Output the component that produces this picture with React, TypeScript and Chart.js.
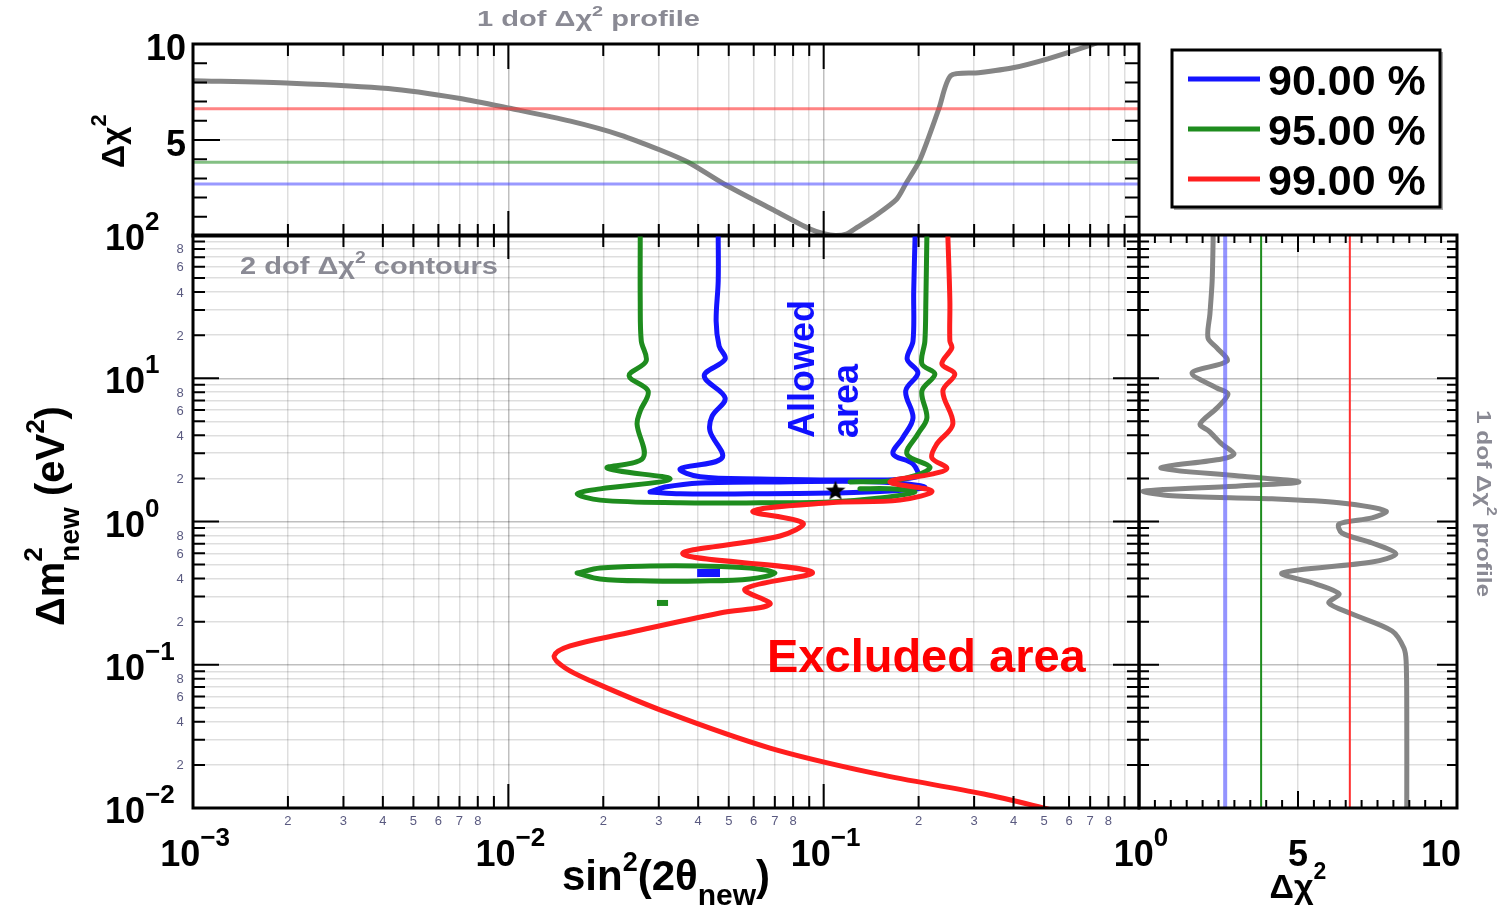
import React, { useEffect, useRef } from 'react';
import { Chart, registerables } from 'chart.js';

Chart.register(...registerables);

const W = 1506;
const H = 914;
const FONT = '"Liberation Sans", Arial, Helvetica, sans-serif';

// ---- Confidence levels ----
const CL_LABELS = ['90.00 %', '95.00 %', '99.00 %'];
const CL_COLORS = ['#1414ff', '#1e8c1e', '#ff1e1e'];
const CL_CHI2_1DOF = [2.71, 3.84, 6.63];
const TH_COLORS_TOP = ['rgba(70,70,255,0.55)', 'rgba(30,140,30,0.55)', 'rgba(255,50,50,0.6)'];
const TH_COLORS_SIDE = ['rgba(90,90,255,0.65)', '#1e8c1e', '#ff3030'];
const TH_WIDTHS_SIDE = [4, 2, 2];

// ---- Axis ranges and tick layout ----
const SIN2_RANGE = [1e-3, 1];
const DM2_RANGE = [1e-2, 1e2];
const CHI2_RANGE = [0, 10];
const SIN2_DECADES = [-3, -2, -1, 0];
const DM2_DECADES = [-2, -1, 0, 1, 2];
const LOG_MULTS = [1, 2, 3, 4, 5, 6, 7, 8, 9];
const SIN2_MINOR_LABELS = [2, 3, 4, 5, 6, 7, 8];
const DM2_MINOR_LABELS = [2, 4, 6, 8];
const CHI2_MAJOR = [0, 5, 10];

// ---- 2 dof contours in (sin^2 2θ, Δm^2 [eV^2]) ----
const BLUE_90_MAIN = [
  [0.0463, 100], [0.0463, 47.7], [0.0456, 25.1], [0.0466, 16.8], [0.0487, 13.6], [0.0418, 10.4],
  [0.0487, 7.28], [0.0443, 5.45], [0.0436, 4.28], [0.0476, 2.78], [0.0351, 2.33], [0.0406, 2.05],
  [0.0628, 1.98], [0.121, 1.95], [0.1975, 2.05], [0.192, 2.52], [0.166, 2.96], [0.178, 3.83],
  [0.192, 5.28], [0.182, 8.15], [0.199, 10.9], [0.184, 13.6], [0.192, 18.2], [0.193, 40.7], [0.195, 100],
];
const BLUE_90_LENS = [
  [0.02815, 1.607], [0.0314, 1.74], [0.0406, 1.86], [0.0727, 1.89], [0.1508, 1.89], [0.2094, 1.74],
  [0.1622, 1.63], [0.1047, 1.58], [0.0584, 1.56], [0.03505, 1.56], [0.02815, 1.607],
];
const BLUE_90_ISLAND = [[0.0397, 0.437], [0.0469, 0.437]];

const GREEN_95_LEFT = [
  [0.0262, 100], [0.0262, 34.6], [0.0264, 18.2], [0.02735, 13.2], [0.02415, 10.4], [0.02775, 8.15],
  [0.0262, 5.91], [0.0256, 4.79], [0.02675, 2.78], [0.02057, 2.36], [0.03258, 1.98], [0.01955, 1.69],
  [0.01653, 1.56], [0.01955, 1.41], [0.03505, 1.35], [0.0628, 1.35], [0.1047, 1.37], [0.1508, 1.46],
  [0.1946, 1.607], [0.1622, 1.69], [0.1303, 1.69],
];
const GREEN_95_RIGHT = [
  [0.2125, 100], [0.2109, 34.6], [0.2094, 18.2], [0.2049, 12.6], [0.2253, 10.7], [0.2049, 8.15],
  [0.2125, 5.28], [0.199, 4.08], [0.1837, 2.96], [0.2172, 2.4], [0.1975, 2.11], [0.1622, 1.92], [0.1212, 1.89],
];
const GREEN_95_ISLAND = [
  [0.01653, 0.437], [0.01955, 0.4737], [0.02815, 0.489], [0.04056, 0.489], [0.0584, 0.4737], [0.0701, 0.437],
  [0.0584, 0.397], [0.04056, 0.384], [0.02815, 0.384], [0.01955, 0.397], [0.01653, 0.437],
];
const GREEN_95_DOT = [[0.0296, 0.27], [0.0321, 0.27]];

const RED_99 = [
  [0.2476, 100], [0.2513, 34.6], [0.2513, 18.2], [0.2549, 16.3], [0.2371, 12.6], [0.2606, 10.7],
  [0.2388, 8.15], [0.2568, 4.79], [0.2286, 3.48], [0.2204, 2.78], [0.2459, 2.36], [0.222, 2.15],
  [0.1622, 1.89], [0.2204, 1.63], [0.1745, 1.41], [0.1047, 1.35], [0.0597, 1.18], [0.086, 0.976],
  [0.0727, 0.792], [0.0358, 0.593], [0.0918, 0.444], [0.0563, 0.338], [0.0676, 0.265], [0.0469, 0.23],
  [0.0238, 0.1666], [0.0157, 0.1352], [0.01397, 0.1151], [0.01515, 0.0949], [0.01831, 0.077],
  [0.031, 0.0475], [0.0676, 0.0262], [0.1475, 0.0173], [0.322, 0.01252], [0.55, 0.0095],
];
const BEST_FIT = [[0.109, 1.63]];

// ---- 1 dof profiles ----
const PROFILE_SIN2 = [
  0.001, 0.00205, 0.00416, 0.00704, 0.0101, 0.01574, 0.02267, 0.0303, 0.0372, 0.0483, 0.0686,
  0.0905, 0.1, 0.109, 0.118, 0.128, 0.145, 0.17, 0.182, 0.202, 0.232, 0.253, 0.31, 0.398, 0.514, 0.69, 0.8,
];
const PROFILE_SIN2_CHI2 = [
  8.09, 7.96, 7.68, 7.16, 6.65, 5.98, 5.26, 4.48, 3.84, 2.71, 1.39,
  0.36, 0.12, 0.02, 0.1, 0.46, 1.03, 1.9, 2.71, 3.97, 6.63, 8.35, 8.5, 8.76, 9.23, 9.9, 10.3,
];
const PROFILE_DM2 = [
  100, 90.8, 47.7, 28.1, 19.1, 16.3, 13.2, 10.9, 8.55, 7.76, 6.2, 4.79, 4.28, 3.48, 2.96, 2.73,
  2.36, 2.08, 1.89, 1.77, 1.63, 1.51, 1.44, 1.35, 1.18, 1.06, 0.961, 0.831, 0.708, 0.593, 0.522,
  0.437, 0.366, 0.312, 0.27, 0.226, 0.172, 0.131, 0.106, 0.05, 0.01,
];
const PROFILE_DM2_CHI2 = [
  2.33, 2.33, 2.3, 2.23, 2.17, 2.45, 2.77, 1.67, 2.45, 2.8, 2.45, 1.92, 2.2, 2.6, 2.99, 2.6,
  0.69, 3.14, 5.03, 3.14, 0.15, 1.04, 4.18, 6.29, 7.77, 7.33, 6.29, 6.38, 7.33, 8.08, 7.33,
  4.5, 5.57, 6.29, 5.97, 6.7, 7.96, 8.33, 8.4, 8.42, 8.42,
];

const GRID_MINOR = 'rgba(0,0,0,0.13)';
const GRID_MAJOR = 'rgba(0,0,0,0.25)';
const GRAY_TEXT = '#8a8a94';
const PROFILE_COLOR = '#858585';

type Tick = { v: number; major: boolean };
type Run = { t: string; size: number; dy?: number; bold?: boolean; adv?: boolean };

function logTicks(decades: number[]): Tick[] {
  const out: Tick[] = [];
  decades.forEach((d, i) => {
    LOG_MULTS.forEach((m) => {
      if (i === decades.length - 1 && m > 1) return;
      out.push({ v: m * Math.pow(10, d), major: m === 1 });
    });
  });
  return out;
}

function linTicks(step: number): Tick[] {
  const out: Tick[] = [];
  const n = Math.round((CHI2_RANGE[1] - CHI2_RANGE[0]) / step);
  for (let i = 0; i <= n; i++) {
    const v = CHI2_RANGE[0] + i * step;
    out.push({ v, major: CHI2_MAJOR.includes(v) });
  }
  return out;
}

const pts = (arr: number[][]) => arr.map(([x, y]) => ({ x, y }));
const zipPts = (xs: number[], ys: number[]) => xs.map((x, i) => ({ x, y: ys[i] }));

function setFont(ctx: CanvasRenderingContext2D, size: number, bold = true) {
  ctx.font = `${bold ? 'bold ' : ''}${size}px ${FONT}`;
}

function runsWidth(ctx: CanvasRenderingContext2D, runs: Run[]) {
  let w = 0;
  for (const r of runs) {
    setFont(ctx, r.size, r.bold !== false);
    if (r.adv !== false) w += ctx.measureText(r.t).width;
  }
  return w;
}

function drawRuns(ctx: CanvasRenderingContext2D, runs: Run[], x: number, y: number, align: string, color: string) {
  const w = runsWidth(ctx, runs);
  let cx = align === 'left' ? x : align === 'center' ? x - w / 2 : x - w;
  ctx.fillStyle = color;
  ctx.textAlign = 'left';
  ctx.textBaseline = 'alphabetic';
  for (const r of runs) {
    setFont(ctx, r.size, r.bold !== false);
    ctx.fillText(r.t, cx, y + (r.dy ?? 0));
    if (r.adv !== false) cx += ctx.measureText(r.t).width;
  }
}

function drawRunsAt(ctx: CanvasRenderingContext2D, runs: Run[], x: number, y: number, angle: number, color: string, fitWidth?: number) {
  ctx.save();
  ctx.translate(x, y);
  ctx.rotate(angle);
  if (fitWidth) ctx.scale(fitWidth / runsWidth(ctx, runs), 1);
  drawRuns(ctx, runs, 0, 0, 'left', color);
  ctx.restore();
}

const powRuns = (d: number): Run[] => [
  { t: '10', size: 36 },
  { t: d < 0 ? '\u2212' + Math.abs(d) : String(d), size: 26, dy: -20 },
];

function drawFrame(chart: any, xt: Tick[], yt: Tick[], xLen: number[], yLen: number[]) {
  const { ctx, chartArea: a } = chart;
  const xs = chart.scales.x;
  const ys = chart.scales.y;
  ctx.save();
  ctx.strokeStyle = '#000';
  ctx.lineWidth = 2;
  ctx.beginPath();
  for (const t of xt) {
    const p = xs.getPixelForValue(t.v);
    const l = t.major ? xLen[1] : xLen[0];
    ctx.moveTo(p, a.bottom);
    ctx.lineTo(p, a.bottom - l);
    ctx.moveTo(p, a.top);
    ctx.lineTo(p, a.top + l);
  }
  for (const t of yt) {
    const p = ys.getPixelForValue(t.v);
    const l = t.major ? yLen[1] : yLen[0];
    ctx.moveTo(a.left, p);
    ctx.lineTo(a.left + l, p);
    ctx.moveTo(a.right, p);
    ctx.lineTo(a.right - l, p);
  }
  ctx.stroke();
  ctx.lineWidth = 3;
  ctx.strokeRect(a.left, a.top, a.right - a.left, a.bottom - a.top);
  ctx.restore();
}

function logAxis(range: number[], decades: number[]) {
  return {
    type: 'logarithmic',
    min: range[0],
    max: range[1],
    ticks: { display: false, callback: () => '' },
    border: { display: false },
    grid: {
      drawTicks: false,
      lineWidth: 1.5,
      color: (c: any) => (c.tick && c.tick.major ? GRID_MAJOR : GRID_MINOR),
    },
    afterBuildTicks: (s: any) => {
      s.ticks = logTicks(decades).map((t) => ({ value: t.v, major: t.major }));
    },
  };
}

function linAxis(range: number[], gridAt: number[]) {
  return {
    type: 'linear',
    min: range[0],
    max: range[1],
    ticks: { display: false, callback: () => '' },
    border: { display: false },
    grid: { drawTicks: false, lineWidth: 1.5, color: GRID_MINOR },
    afterBuildTicks: (s: any) => {
      s.ticks = gridAt.map((v) => ({ value: v }));
    },
  };
}

function curve(data: any[], color: string, width: number, order: number, extra: any = {}) {
  return {
    data,
    showLine: true,
    borderColor: color,
    backgroundColor: color,
    borderWidth: width,
    pointRadius: 0,
    tension: 0.35,
    borderCapStyle: 'round',
    borderJoinStyle: 'round',
    fill: false,
    order,
    ...extra,
  };
}

function baseOptions(padding: any, scales: any) {
  return {
    animation: false,
    responsive: false,
    devicePixelRatio: 1,
    events: [],
    layout: { padding },
    plugins: { legend: { display: false }, tooltip: { enabled: false }, title: { display: false } },
    scales,
  };
}

function makeStar(size: number) {
  const c = document.createElement('canvas');
  c.width = size;
  c.height = size;
  const g = c.getContext('2d')!;
  const R = size / 2 - 0.5;
  const r = R * 0.42;
  g.beginPath();
  for (let i = 0; i < 10; i++) {
    const a = -Math.PI / 2 + (i * Math.PI) / 5;
    const rad = i % 2 === 0 ? R : r;
    g.lineTo(size / 2 + rad * Math.cos(a), size / 2 + rad * Math.sin(a));
  }
  g.closePath();
  g.fillStyle = '#000';
  g.fill();
  return c;
}

// Upper panel: 1 dof profile versus sin^2(2θ), plus the legend
function buildTop(canvas: HTMLCanvasElement) {
  const xt = logTicks(SIN2_DECADES);
  const yt = linTicks(1);
  const decor = {
    id: 'topDecor',
    afterDraw(chart: any) {
      const ctx = chart.ctx;
      const ys = chart.scales.y;
      drawFrame(chart, xt, yt, [12, 25], [14, 27]);
      [10, 5].forEach((v) => {
        drawRuns(ctx, [{ t: String(v), size: 36 }], 186, ys.getPixelForValue(v) + 16, 'right', '#000');
      });
      drawRunsAt(ctx, [{ t: '\u0394\u03c7', size: 32 }, { t: '2', size: 22, dy: -18 }], 124, 168, -Math.PI / 2, '#000');
      drawRunsAt(ctx, [{ t: '1 dof \u0394\u03c7', size: 22 }, { t: '2', size: 15, dy: -10 }, { t: ' profile', size: 22 }], 477, 26, 0, GRAY_TEXT, 223);
      // legend box
      ctx.save();
      ctx.fillStyle = '#fff';
      ctx.fillRect(1172, 50, 268, 157);
      ctx.strokeStyle = '#000';
      ctx.lineWidth = 3;
      ctx.strokeRect(1172, 50, 268, 157);
      ctx.lineWidth = 2;
      ctx.strokeStyle = 'rgba(0,0,0,0.35)';
      ctx.beginPath();
      ctx.moveTo(1174, 209);
      ctx.lineTo(1442, 209);
      ctx.lineTo(1442, 52);
      ctx.stroke();
      CL_LABELS.forEach((lab, i) => {
        const y = 79 + i * 50;
        ctx.strokeStyle = CL_COLORS[i];
        ctx.lineWidth = 5;
        ctx.beginPath();
        ctx.moveTo(1188, y);
        ctx.lineTo(1260, y);
        ctx.stroke();
        drawRuns(ctx, [{ t: lab, size: 43 }], 1268, y + 16, 'left', '#000');
      });
      ctx.restore();
    },
  };
  const datasets: any[] = CL_CHI2_1DOF.map((v, i) =>
    curve(zipPts(SIN2_RANGE, [v, v]), TH_COLORS_TOP[i], 3, 0, { tension: 0, borderCapStyle: 'butt' })
  );
  datasets.push(curve(zipPts(PROFILE_SIN2, PROFILE_SIN2_CHI2), PROFILE_COLOR, 5, 1, { tension: 0.25 }));
  return new Chart(canvas, {
    type: 'scatter',
    data: { datasets },
    options: baseOptions(
      { left: 193, top: 44, right: W - 1139, bottom: H - 236 },
      { x: logAxis(SIN2_RANGE, SIN2_DECADES), y: linAxis(CHI2_RANGE, [5]) }
    ),
    plugins: [decor],
  } as any);
}

// Main panel: 2 dof contours in the (sin^2 2θ, Δm^2) plane
function buildMain(canvas: HTMLCanvasElement) {
  const xt = logTicks(SIN2_DECADES);
  const yt = logTicks(DM2_DECADES);
  const star = makeStar(22);
  const decor = {
    id: 'mainDecor',
    afterDraw(chart: any) {
      const ctx = chart.ctx;
      const xs = chart.scales.x;
      const ys = chart.scales.y;
      drawFrame(chart, xt, yt, [12, 24], [12, 26]);
      // minor labels
      ctx.save();
      ctx.fillStyle = '#5a5a80';
      setFont(ctx, 13, false);
      ctx.textAlign = 'center';
      ctx.textBaseline = 'middle';
      SIN2_DECADES.slice(0, -1).forEach((d) => {
        SIN2_MINOR_LABELS.forEach((m) => ctx.fillText(String(m), xs.getPixelForValue(m * Math.pow(10, d)), 821));
      });
      DM2_DECADES.slice(0, -1).forEach((d) => {
        DM2_MINOR_LABELS.forEach((m) => ctx.fillText(String(m), 180, ys.getPixelForValue(m * Math.pow(10, d)) + 1));
      });
      ctx.restore();
      // decade labels
      SIN2_DECADES.forEach((d) => drawRuns(ctx, powRuns(d), xs.getPixelForValue(Math.pow(10, d)) + 2, 866, 'center', '#000'));
      DM2_DECADES.forEach((d) => drawRuns(ctx, powRuns(d), 105, ys.getPixelForValue(Math.pow(10, d)) + 15, 'left', '#000'));
      // axis titles
      drawRuns(
        ctx,
        [
          { t: 'sin', size: 42 },
          { t: '2', size: 27, dy: -19 },
          { t: '(2\u03b8', size: 42 },
          { t: 'new', size: 30, dy: 15 },
          { t: ')', size: 42 },
        ],
        666,
        890,
        'center',
        '#000'
      );
      drawRunsAt(
        ctx,
        [
          { t: '\u0394m', size: 40 },
          { t: '2', size: 26, dy: -22, adv: false },
          { t: 'new', size: 28, dy: 15 },
          { t: ' (eV', size: 40 },
          { t: '2', size: 26, dy: -20 },
          { t: ')', size: 40 },
        ],
        64,
        626,
        -Math.PI / 2,
        '#000'
      );
      // annotations
      drawRunsAt(ctx, [{ t: '2 dof \u0394\u03c7', size: 24 }, { t: '2', size: 16, dy: -11 }, { t: ' contours', size: 24 }], 240, 274, 0, GRAY_TEXT, 258);
      drawRunsAt(ctx, [{ t: 'Allowed', size: 36 }], 814, 438, -Math.PI / 2, '#1010ff');
      drawRunsAt(ctx, [{ t: 'area', size: 36 }], 858, 438, -Math.PI / 2, '#1010ff');
      drawRuns(ctx, [{ t: 'Excluded area', size: 47 }], 767, 672, 'left', '#ff0000');
    },
  };
  const datasets = [
    curve(pts(BLUE_90_MAIN), CL_COLORS[0], 5, 3),
    curve(pts(BLUE_90_LENS), CL_COLORS[0], 5, 3),
    curve(pts(BLUE_90_ISLAND), CL_COLORS[0], 8, 3, { borderCapStyle: 'butt', tension: 0 }),
    curve(pts(GREEN_95_LEFT), CL_COLORS[1], 5, 2),
    curve(pts(GREEN_95_RIGHT), CL_COLORS[1], 5, 2),
    curve(pts(GREEN_95_ISLAND), CL_COLORS[1], 5, 2),
    curve(pts(GREEN_95_DOT), CL_COLORS[1], 6, 2, { borderCapStyle: 'butt', tension: 0 }),
    curve(pts(RED_99), CL_COLORS[2], 5, 1),
    {
      data: pts(BEST_FIT),
      showLine: false,
      pointStyle: star,
      pointRadius: 11,
      order: -1,
    },
  ];
  return new Chart(canvas, {
    type: 'scatter',
    data: { datasets },
    options: baseOptions(
      { left: 193, top: 235, right: W - 1139, bottom: H - 808 },
      { x: logAxis(SIN2_RANGE, SIN2_DECADES), y: logAxis(DM2_RANGE, DM2_DECADES) }
    ),
    plugins: [decor],
  } as any);
}

// Side panel: 1 dof profile versus Δm^2
function buildSide(canvas: HTMLCanvasElement) {
  const xt = linTicks(0.5);
  const yt = logTicks(DM2_DECADES);
  const decor = {
    id: 'sideDecor',
    afterDraw(chart: any) {
      const ctx = chart.ctx;
      const xs = chart.scales.x;
      drawFrame(chart, xt, yt, [8, 17], [10, 20]);
      drawRuns(ctx, [{ t: '5', size: 36 }], xs.getPixelForValue(5), 866, 'center', '#000');
      drawRuns(ctx, [{ t: '10', size: 36 }], xs.getPixelForValue(10) + 4, 866, 'right', '#000');
      drawRuns(ctx, [{ t: '\u0394\u03c7', size: 34 }, { t: '2', size: 23, dy: -19 }], 1298, 898, 'center', '#000');
      drawRunsAt(ctx, [{ t: '1 dof \u0394\u03c7', size: 21 }, { t: '2', size: 14, dy: -10 }, { t: ' profile', size: 21 }], 1477, 410, Math.PI / 2, GRAY_TEXT, 187);
    },
  };
  const datasets: any[] = CL_CHI2_1DOF.map((v, i) =>
    curve(zipPts([v, v], DM2_RANGE), TH_COLORS_SIDE[i], TH_WIDTHS_SIDE[i], 0, { tension: 0, borderCapStyle: 'butt' })
  );
  datasets.push(curve(zipPts(PROFILE_DM2_CHI2, PROFILE_DM2), PROFILE_COLOR, 5, 1, { tension: 0.3 }));
  return new Chart(canvas, {
    type: 'scatter',
    data: { datasets },
    options: baseOptions(
      { left: 1139, top: 235, right: W - 1457, bottom: H - 808 },
      { x: linAxis(CHI2_RANGE, [5]), y: logAxis(DM2_RANGE, DM2_DECADES) }
    ),
    plugins: [decor],
  } as any);
}

export default function App() {
  const topRef = useRef<HTMLCanvasElement>(null);
  const mainRef = useRef<HTMLCanvasElement>(null);
  const sideRef = useRef<HTMLCanvasElement>(null);

  useEffect(() => {
    const charts = [buildTop(topRef.current!), buildMain(mainRef.current!), buildSide(sideRef.current!)];
    return () => charts.forEach((c) => c.destroy());
  }, []);

  const cs: React.CSSProperties = { position: 'absolute', left: 0, top: 0, width: W, height: H };
  return (
    <div style={{ position: 'fixed', left: 0, top: 0, width: W, height: H, background: '#fff', overflow: 'hidden' }}>
      <canvas ref={topRef} width={W} height={H} style={cs} />
      <canvas ref={mainRef} width={W} height={H} style={cs} />
      <canvas ref={sideRef} width={W} height={H} style={cs} />
    </div>
  );
}
